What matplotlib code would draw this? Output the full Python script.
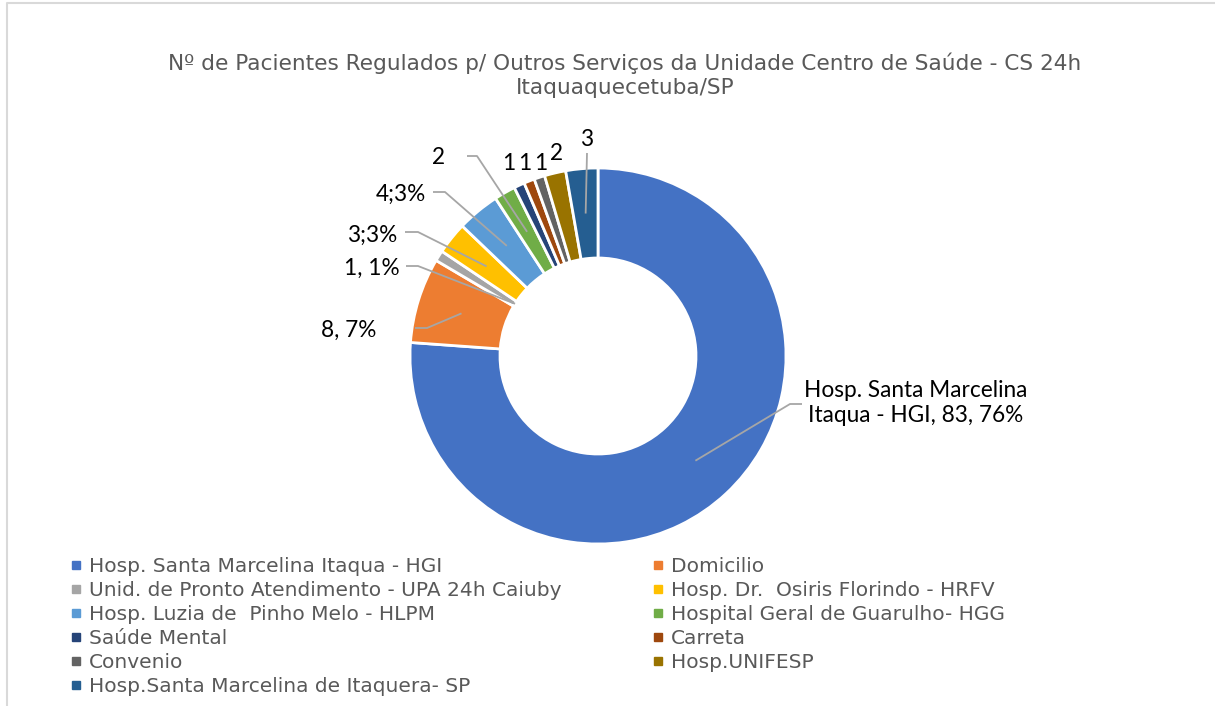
import numpy as np
import matplotlib.pyplot as plt
from matplotlib.lines import Line2D

# data
categories = ["Hosp. Santa Marcelina Itaqua - HGI", "Domicilio",
              "Unid. de Pronto Atendimento - UPA 24h Caiuby", "Hosp. Dr.  Osiris Florindo - HRFV",
              "Hosp. Luzia de  Pinho Melo - HLPM", "Hospital Geral de Guarulho- HGG",
              "Saúde Mental", "Carreta", "Convenio", "Hosp.UNIFESP",
              "Hosp.Santa Marcelina de Itaquera- SP"]
values = [83, 8, 1, 3, 4, 2, 1, 1, 1, 2, 3]
point_labels = ["Hosp. Santa Marcelina\nItaqua - HGI, 83, 76%", "8, 7%", "1, 1%", "3;3%",
                "4;3%", "2", "1", "1", "1", "2", "3"]
colors = ['#4472C4', '#ED7D31', '#A5A5A5', '#FFC000', '#5B9BD5', '#70AD47',
          '#264478', '#9E480E', '#636363', '#997300', '#255E91']
title = "Nº de Pacientes Regulados p/ Outros Serviços da Unidade Centro de Saúde - CS 24h\nItaquaquecetuba/SP"

W, H = 1215, 706
fig = plt.figure(figsize=(W/100, H/100), dpi=100)
ax = fig.add_axes([0, 0, 1, 1])

def P(x, y):
    # pixel coords (y down) -> data coords
    return x, H - y

cx, cy = P(598, 356)
R, ring = 188, 90
wedges, _ = ax.pie(values, colors=colors, startangle=90, counterclock=False,
                   radius=R, center=(cx, cy), frame=True,
                   wedgeprops=dict(width=ring, edgecolor='white', linewidth=2))
ax.set_xlim(0, W)
ax.set_ylim(0, H)
ax.set_aspect('equal')
ax.axis('off')

# label layout: text center, leader start, leader elbow, leader radius (None = no leader)
lab_pos = [(916, 403), (349, 330), (372, 268), (372, 235), (401, 194), (439, 157),
           (509, 164), (525, 164), (541, 164), (557, 153), (587, 139)]
lead = [((802, 404), (790, 404), 143), ((415, 328), (427, 328), 143),
        ((406, 266), (418, 266), 98), ((405, 232), (418, 232), 143),
        ((433, 192), (445, 192), 143), ((467, 156), (477, 156), 143),
        None, None, None, None, ((587, 153), (587, 153), 143)]

for w, txt, pos, ld in zip(wedges, point_labels, lab_pos, lead):
    tx, ty = P(*pos)
    ax.text(tx, ty, txt, ha='center', va='center', fontsize=16.3, family='Lato',
            color='black', linespacing=1.2)
    if ld is None:
        continue
    (sx, sy), (ex, ey), r = ld
    mid = np.deg2rad((w.theta1 + w.theta2) / 2)
    px, py = cx + r*np.cos(mid), cy + r*np.sin(mid)
    xs = [P(sx, sy)[0], P(ex, ey)[0], px]
    ys = [P(sx, sy)[1], P(ex, ey)[1], py]
    ax.plot(xs, ys, color='#A6A6A6', lw=1.3, solid_capstyle='butt')

fig.text(625/W, 1 - 75/H, title, ha='center', va='center', fontsize=15.6,
         color='#595959', linespacing=1.25)

# legend in two columns, row-major order
handles = [Line2D([], [], marker='s', ls='', markersize=5.5, color=c) for c in colors]
for col, x0 in ((0, 70), (1, 652)):
    idx = list(range(col, len(categories), 2))
    fig.legend([handles[i] for i in idx], [categories[i] for i in idx],
               loc='upper left', bbox_to_anchor=(x0/W, 1 - 557/H), frameon=False,
               fontsize=14.5, labelspacing=0.25, handlelength=0.6, handletextpad=0.35,
               borderpad=0, borderaxespad=0, labelcolor='#595959')

# chart border (top and left)
fig.add_artist(Line2D([7/W, 7/W, 1], [0, 1 - 3/H, 1 - 3/H], color='#D9D9D9', lw=1.5))

fig.savefig('out.png', dpi=100)
